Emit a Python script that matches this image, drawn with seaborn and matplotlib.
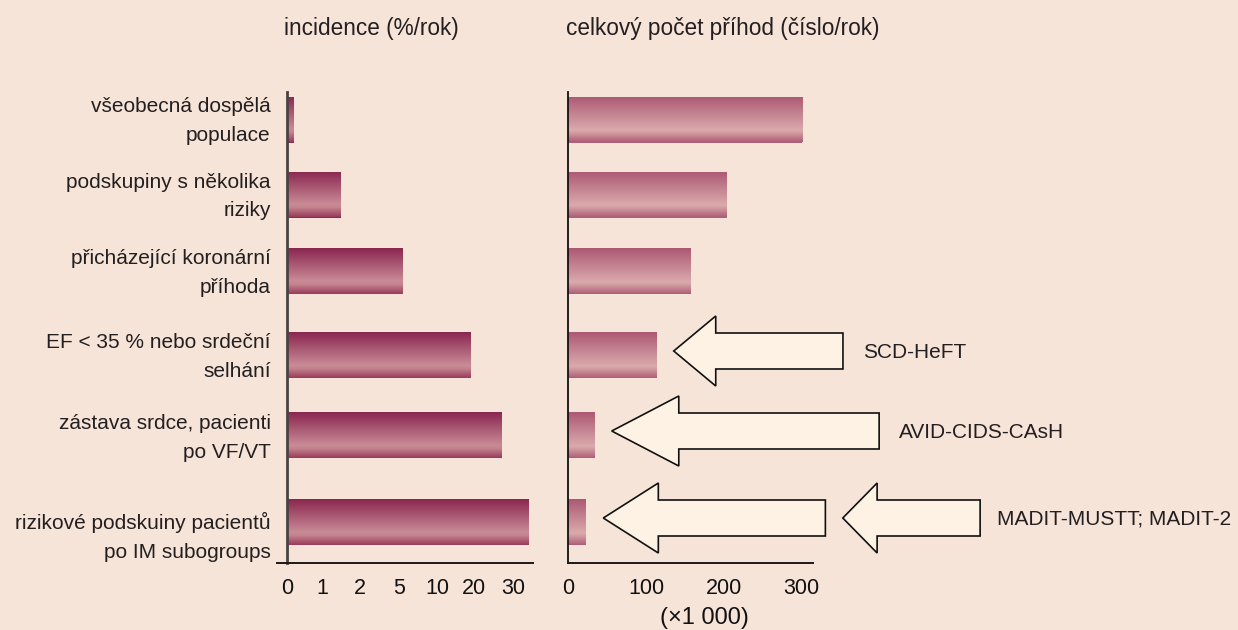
import numpy as np
import pandas as pd
import matplotlib
matplotlib.use("Agg")
import matplotlib.pyplot as plt
import seaborn as sns
from matplotlib.patches import Polygon
from matplotlib.colors import LinearSegmentedColormap

# ---------------- data ----------------
groups = [
    "všeobecná dospělá\npopulace",
    "podskupiny s několika\nriziky",
    "přicházející koronární\npříhoda",
    "EF < 35 % nebo srdeční\nselhání",
    "zástava srdce, pacienti\npo VF/VT",
    "rizikové podskuiny pacientů\npo IM subogroups",
]
incidence = [0.2, 1.5, 5.5, 19, 27, 34]      # %/rok
events = [301, 204, 158, 114, 34, 22]        # x 1000 / rok
inc_ticks = [0, 1, 2, 5, 10, 20, 30]
ev_ticks = [0, 50, 100, 150, 200, 250, 300]
ev_labels = ["0", "", "100", "", "200", "", "300"]
trials = ["SCD-HeFT", "AVID-CIDS-CAsH", "MADIT-MUSTT; MADIT-2"]

# ---------------- layout ----------------
BG = "#F7E4D9"
row_y = [119.5, 194.5, 271, 355, 435, 522]   # row centres (y axis runs 563 -> 92)
label_shift = [-5, -5, -5, -5, -4, 8]        # nudge of the row labels
bar_h = 46
y_lim = (563, 92)

# piecewise incidence scale (equal spacing of 0,1,2,5,10,20,30)
inc_val = [-1, 0, 1, 2, 5, 10, 20, 30, 40]
inc_pos = [-34.7, 0, 34.7, 72.7, 111.4, 150.4, 187.0, 226.0, 265.0]


def fwd(v):
    return np.interp(v, inc_val, inc_pos)


def inv(p):
    return np.interp(p, inc_pos, inc_val)


# arrows: (row, tip, head back, tail) in x data units of the right panel
arrows = [(3, 135.5, 189.5, 353), (4, 55.8, 142, 399.5),
          (5, 45, 115.7, 330.4), (5, 352.8, 396.9, 529.3)]
arrow_labels = [(3, 378.8), (4, 425), (5, 551.6)]

sns.set_style("white")
plt.rcParams["font.family"] = ["Liberation Sans", "DejaVu Sans"]
plt.rcParams["text.color"] = "#231F20"

df = pd.DataFrame({"group": groups, "incidence": incidence,
                   "events": events, "row": row_y})

fig = plt.figure(figsize=(12.38, 6.30), dpi=100, facecolor=BG)
ax1 = fig.add_axes([277 / 1238, 67 / 630, 256 / 1238, 471 / 630])
ax2 = fig.add_axes([568.3 / 1238, 67 / 630, 244.7 / 1238, 471 / 630])

width = bar_h / np.diff(row_y).min()
sns.barplot(data=df, x="incidence", y="row", orient="h", native_scale=True,
            width=width, color="#8C2851", saturation=1, errorbar=None,
            linewidth=0, ax=ax1)
sns.barplot(data=df, x="events", y="row", orient="h", native_scale=True,
            width=width, color="#B0607A", saturation=1, errorbar=None,
            linewidth=0, ax=ax2)

left_cmap = LinearSegmentedColormap.from_list(
    "l", [(0, "#8A2650"), (0.72, "#C98B97"), (0.79, "#C4848F"), (1, "#993A5C")])
right_cmap = LinearSegmentedColormap.from_list(
    "r", [(0, "#AC5873"), (0.74, "#DAAAAC"), (0.8, "#D29CA1"), (1, "#AE5D77")])

grad = np.linspace(0, 1, 256).reshape(-1, 1)


def shade(ax, cmap):
    span = y_lim[1] - y_lim[0]
    for bar in list(ax.patches):
        y_top = bar.get_y()
        y_bot = bar.get_y() + bar.get_height()
        ft = (y_top - y_lim[0]) / span
        fb = (y_bot - y_lim[0]) / span
        im = ax.imshow(grad, extent=(0, 1, fb, ft), transform=ax.transAxes,
                       aspect="auto", cmap=cmap, origin="upper",
                       interpolation="bilinear", zorder=bar.get_zorder() + 0.1)
        im.set_clip_path(bar)


shade(ax1, left_cmap)
shade(ax2, right_cmap)

# left panel axes
ax1.set_xscale("function", functions=(fwd, inv))
ax1.set_xlim(inv(-10.3), inv(245.7))
ax1.set_ylim(*y_lim)
ax1.set_xticks(inc_ticks)
ax1.set_xticklabels([str(t) for t in inc_ticks])
ax1.set_yticks(np.array(row_y) + np.array(label_shift))
ax1.set_yticklabels(groups)
ax1.set_xlabel("")
ax1.set_ylabel("")
ax1.spines["left"].set_position(("data", 0))
ax1.spines["left"].set_color("#4A4343")
ax1.spines["left"].set_linewidth(2)
ax1.spines["bottom"].set_color("#1A1A1A")
ax1.spines["bottom"].set_linewidth(1.4)
ax1.spines[["top", "right"]].set_visible(False)
ax1.tick_params(axis="x", length=7.5, width=1.4, color="#333333",
                pad=3, labelsize=15.5, labelcolor="#111111")
ax1.tick_params(axis="y", length=0, pad=12, labelsize=15,
                labelcolor="#231F20")
for lab in ax1.get_yticklabels():
    lab.set_linespacing(1.65)
ax1.set_facecolor("none")

# right panel axes
ax2.set_xlim(0, 314.5)
ax2.set_ylim(*y_lim)
ax2.set_xticks(ev_ticks)
ax2.set_xticklabels(ev_labels)
ax2.set_yticks([])
ax2.set_xlabel("")
ax2.set_ylabel("")
ax2.spines["left"].set_color("#111111")
ax2.spines["left"].set_linewidth(1.3)
ax2.spines["bottom"].set_color("#1A1A1A")
ax2.spines["bottom"].set_linewidth(1.4)
ax2.spines[["top", "right"]].set_visible(False)
ax2.tick_params(axis="x", length=7.5, width=1.4, color="#333333",
                pad=3, labelsize=15.5, labelcolor="#111111")
ax2.set_facecolor("none")

# trial arrows
for row, tip, back, tail in arrows:
    yc = row_y[row] - 4
    pts = [(tip, yc), (back, yc - 35), (back, yc - 18), (tail, yc - 18),
           (tail, yc + 18), (back, yc + 18), (back, yc + 35)]
    ax2.add_patch(Polygon(pts, closed=True, facecolor="#FEF2E4",
                          edgecolor="#111111", linewidth=1.2,
                          joinstyle="miter", clip_on=False, zorder=5))

for name, (row, x) in zip(trials, arrow_labels):
    ax2.text(x, row_y[row] - 3, name, fontsize=15, va="center", ha="left",
             clip_on=False, color="#231F20")

# titles
fig.text(284 / 1238, 1 - 29 / 630, "incidence (%/rok)", fontsize=16.3,
         va="center", ha="left")
fig.text(566 / 1238, 1 - 29 / 630, "celkový počet příhod (číslo/rok)",
         fontsize=16.3, va="center", ha="left")
fig.text(704 / 1238, 1 - 618 / 630, "(×1 000)", fontsize=17,
         va="center", ha="center", color="#111111")

fig.savefig("out.png", dpi=100, facecolor=BG)
